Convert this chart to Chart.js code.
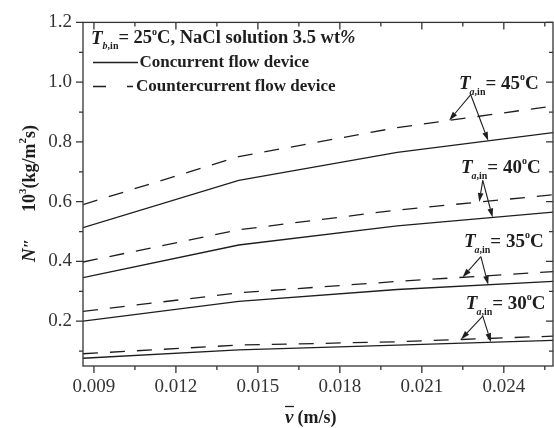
<!DOCTYPE html>
<html>
<head>
<meta charset="utf-8">
<script src="https://cdn.jsdelivr.net/npm/chart.js@4.4.0/dist/chart.umd.min.js"></script>
<style>
  html, body { margin: 0; padding: 0; background: #fff; }
  #wrap { width: 554px; height: 428px; }
</style>
</head>
<body>
<div id="wrap"><canvas id="chart" width="554" height="428"></canvas></div>
<script>
// velocity (m/s)
const velocity = [0.0086, 0.0143, 0.0201, 0.0258];

// mass flux N'' x 10^3 (kg/m2 s)
const conc45    = [0.513, 0.671, 0.765, 0.831];
const counter45 = [0.590, 0.751, 0.848, 0.920];
const conc40    = [0.346, 0.455, 0.519, 0.565];
const counter40 = [0.398, 0.506, 0.572, 0.623];
const conc35    = [0.200, 0.266, 0.306, 0.333];
const counter35 = [0.233, 0.295, 0.333, 0.366];
const conc30    = [0.076, 0.104, 0.120, 0.136];
const counter30 = [0.091, 0.120, 0.131, 0.150];

const xMajor = [0.009, 0.012, 0.015, 0.018, 0.021, 0.024];
const xMinor = [0.0105, 0.0135, 0.0165, 0.0195, 0.0225, 0.0255];
const yMajor = [0.2, 0.4, 0.6, 0.8, 1.0, 1.2];
const yMinor = [0.1, 0.3, 0.5, 0.7, 0.9, 1.1];

const INK = '#1e1e1e';
const SERIF = '"Liberation Serif", "Times New Roman", serif';

function pts(ys) { return velocity.map((x, i) => ({ x: x, y: ys[i] })); }

function line(ys, dashed) {
  return {
    data: pts(ys),
    borderColor: INK,
    borderWidth: 1.3,
    borderDash: dashed ? [15, 12] : [],
    pointRadius: 0,
    tension: 0,
    fill: false
  };
}

const datasets = [
  line(conc45, false), line(counter45, true),
  line(conc40, false), line(counter40, true),
  line(conc35, false), line(counter35, true),
  line(conc30, false), line(counter30, true)
];

// label placement for each temperature group (in data units)
const notes = [
  { t: '45', lx: 0.02236, ly: 0.997, ax: 0.02279, ay: 0.958, dx: 0.0220,  sx: 0.02343, solid: conc45, dash: counter45 },
  { t: '40', lx: 0.02243, ly: 0.715, ax: 0.02323, ay: 0.671, dx: 0.0231,  sx: 0.02359, solid: conc40, dash: counter40 },
  { t: '35', lx: 0.02254, ly: 0.469, ax: 0.02316, ay: 0.416, dx: 0.02249, sx: 0.02343, solid: conc35, dash: counter35 },
  { t: '30', lx: 0.02261, ly: 0.261, ax: 0.02323, ay: 0.217, dx: 0.02243, sx: 0.02353, solid: conc30, dash: counter30 }
];

function interp(ys, x) {
  for (let i = 0; i < velocity.length - 1; i++) {
    if (x >= velocity[i] && x <= velocity[i + 1]) {
      const f = (x - velocity[i]) / (velocity[i + 1] - velocity[i]);
      return ys[i] + f * (ys[i + 1] - ys[i]);
    }
  }
  return ys[ys.length - 1];
}

function rich(ctx, x, y, parts, align) {
  let w = 0;
  parts.forEach(p => { ctx.font = p[1]; w += ctx.measureText(p[0]).width + (p[3] || 0); });
  let cx = align === 'center' ? x - w / 2 : x;
  parts.forEach(p => {
    ctx.font = p[1];
    ctx.fillText(p[0], cx, y + (p[2] || 0));
    cx += ctx.measureText(p[0]).width + (p[3] || 0);
  });
  return cx;
}

function arrow(ctx, x0, y0, x1, y1) {
  const a = Math.atan2(y1 - y0, x1 - x0);
  const L = 9, W = 2.8;
  ctx.beginPath();
  ctx.moveTo(x0, y0);
  ctx.lineTo(x1 - Math.cos(a) * L, y1 - Math.sin(a) * L);
  ctx.stroke();
  ctx.beginPath();
  ctx.moveTo(x1, y1);
  ctx.lineTo(x1 - Math.cos(a) * L - Math.sin(a) * W, y1 - Math.sin(a) * L + Math.cos(a) * W);
  ctx.lineTo(x1 - Math.cos(a) * L + Math.sin(a) * W, y1 - Math.sin(a) * L - Math.cos(a) * W);
  ctx.closePath();
  ctx.fill();
}

const decor = {
  id: 'decor',
  afterDraw(chart) {
    const ctx = chart.ctx;
    const a = chart.chartArea;
    const xs = chart.scales.x, ys = chart.scales.y;
    ctx.save();
    ctx.strokeStyle = '#333';
    ctx.fillStyle = INK;
    ctx.lineWidth = 1.3;
    ctx.strokeRect(a.left, a.top, a.right - a.left, a.bottom - a.top);

    // ticks: outside on bottom/left, inside on top/right
    ctx.beginPath();
    const tx = (v, len) => {
      const p = xs.getPixelForValue(v);
      ctx.moveTo(p, a.bottom); ctx.lineTo(p, a.bottom + len);
      ctx.moveTo(p, a.top); ctx.lineTo(p, a.top + len);
    };
    const ty = (v, len) => {
      const p = ys.getPixelForValue(v);
      ctx.moveTo(a.left, p); ctx.lineTo(a.left - len, p);
      ctx.moveTo(a.right, p); ctx.lineTo(a.right - len, p);
    };
    xMajor.forEach(v => tx(v, 7));
    xMinor.forEach(v => { if (v < xs.max) tx(v, 4); });
    yMajor.forEach(v => ty(v, 7));
    yMinor.forEach(v => ty(v, 4));
    ctx.stroke();

    // legend block
    ctx.textBaseline = 'alphabetic';
    ctx.textAlign = 'left';
    const B = 'bold 17px ' + SERIF;
    const BT = 'bold 18.5px ' + SERIF;
    let cx = rich(ctx, 91, 43.5, [['T', 'italic bold 19px ' + SERIF]]);
    cx = rich(ctx, cx, 48.5, [['b', 'italic bold 10px ' + SERIF], [',in', 'bold 10px ' + SERIF]]);
    rich(ctx, cx, 43, [['= 25', BT], ['o', 'bold 10px ' + SERIF, -8], ['C, NaCl solution 3.5 wt', BT], ['%', 'italic bold 18.5px ' + SERIF]]);

    ctx.lineWidth = 1.3;
    ctx.strokeStyle = INK;
    ctx.beginPath();
    ctx.moveTo(93, 62.5); ctx.lineTo(138, 62.5);
    ctx.stroke();
    ctx.setLineDash([13, 21]);
    ctx.beginPath();
    ctx.moveTo(93, 86.5); ctx.lineTo(133, 86.5);
    ctx.stroke();
    ctx.setLineDash([]);
    rich(ctx, 139.5, 67, [['Concurrent flow device', B]]);
    rich(ctx, 136, 91, [['Countercurrent flow device', B]]);

    // temperature labels with arrows
    notes.forEach(n => {
      const lx = xs.getPixelForValue(n.lx), ly = ys.getPixelForValue(n.ly);
      let c = rich(ctx, lx, ly + 6, [['T', 'italic bold 19px ' + SERIF]]);
      c = rich(ctx, c - 1, ly + 12, [['a', 'italic bold 10px ' + SERIF], [',in', 'bold 10px ' + SERIF]]);
      rich(ctx, c, ly + 6, [['= ' + n.t, 'bold 19px ' + SERIF], ['o', 'bold 10px ' + SERIF, -9], ['C', 'bold 19px ' + SERIF]]);
      const px = xs.getPixelForValue(n.ax), py = ys.getPixelForValue(n.ay);
      ctx.lineWidth = 1.1;
      arrow(ctx, px, py, xs.getPixelForValue(n.dx), ys.getPixelForValue(interp(n.dash, n.dx)));
      arrow(ctx, px, py, xs.getPixelForValue(n.sx), ys.getPixelForValue(interp(n.solid, n.sx)));
    });

    // x axis title
    rich(ctx, 285, 423, [['v', 'italic bold 19px ' + SERIF, 0, 4], ['(m/s)', 'bold 18px ' + SERIF]]);
    ctx.lineWidth = 1.3;
    ctx.beginPath();
    ctx.moveTo(285, 406.5); ctx.lineTo(294, 406.5);
    ctx.stroke();

    // y axis title (rotated)
    ctx.save();
    ctx.translate(35, 0);
    ctx.rotate(-Math.PI / 2);
    rich(ctx, -262, 0, [['N', 'italic bold 19px ' + SERIF], ['\u2033', 'bold 17px ' + SERIF]]);
    rich(ctx, -212, 0, [
      ['10', 'bold 18px ' + SERIF], ['3', 'bold 11px ' + SERIF, -9],
      ['(kg/m', 'bold 18px ' + SERIF], ['2', 'bold 11px ' + SERIF, -9], ['s)', 'bold 18px ' + SERIF]
    ]);
    ctx.restore();
    ctx.restore();
  }
};

new Chart(document.getElementById('chart'), {
  type: 'line',
  data: { datasets: datasets },
  options: {
    responsive: false,
    animation: false,
    layout: { padding: { top: 19, right: 1, left: 0, bottom: 0 } },
    plugins: { legend: { display: false }, tooltip: { enabled: false } },
    scales: {
      x: {
        type: 'linear',
        min: 0.0086,
        max: 0.0258,
        afterBuildTicks: s => { s.ticks = xMajor.map(v => ({ value: v })); },
        afterFit: s => { s.height = 62; },
        grid: { display: true, drawOnChartArea: false, drawTicks: false },
        border: { display: false },
        ticks: {
          color: '#333',
          padding: 10,
          maxRotation: 0,
          autoSkip: false,
          font: { family: SERIF, size: 19 },
          callback: v => v.toFixed(3)
        }
      },
      y: {
        type: 'linear',
        min: 0.05,
        max: 1.2,
        afterBuildTicks: s => { s.ticks = yMajor.map(v => ({ value: v })); },
        afterFit: s => { s.width = 83; },
        grid: { display: true, drawOnChartArea: false, drawTicks: false },
        border: { display: false },
        ticks: {
          color: '#333',
          padding: 11,
          autoSkip: false,
          font: { family: SERIF, size: 19 },
          callback: v => v.toFixed(1)
        }
      }
    }
  },
  plugins: [decor]
});
</script>
</body>
</html>
